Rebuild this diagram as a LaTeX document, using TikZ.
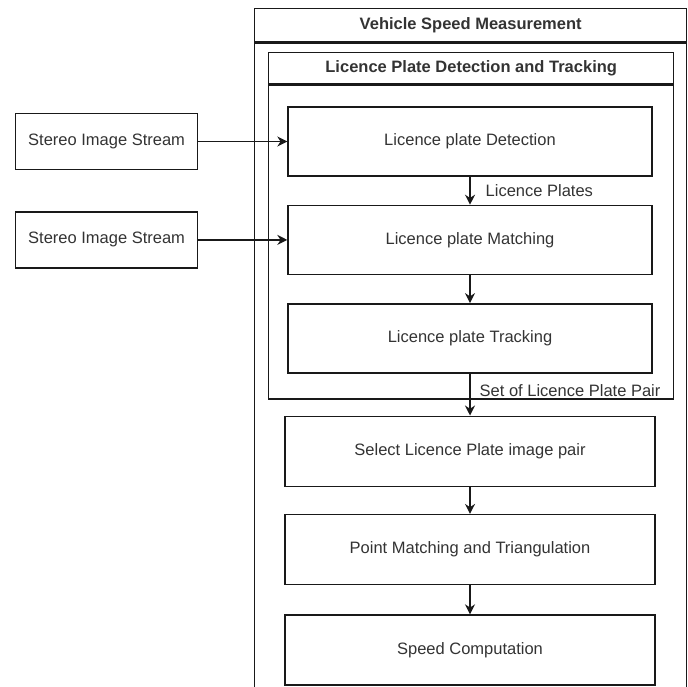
\documentclass[tikz,border=0pt]{standalone}
\usepackage{fontspec}
\setmainfont{Liberation Sans}
\usetikzlibrary{positioning,arrows.meta}

\tikzset{
  txt/.style={font=\fontsize{8.25}{10}\selectfont, text=black!80},
  block/.style={txt, draw=black!90, line width=0.7pt, minimum width=182pt, minimum height=34.5pt},
  wideblock/.style={block, minimum width=185pt, minimum height=35pt},
  source/.style={block, minimum width=91pt, minimum height=28pt},
  lanehead/.style={txt, font=\fontsize{8.25}{10}\selectfont\bfseries, draw=black!90, line width=0.7pt, anchor=north west},
  lanebody/.style={draw=black!90, line width=0.7pt, anchor=north},
  flow/.style={-{Stealth[length=5pt,width=5pt]}, line width=0.7pt, black!90},
  elabel/.style={txt, inner sep=0pt, anchor=west}
}

\begin{document}
\begin{tikzpicture}

  \useasboundingbox (0,0) rectangle (344pt,-343pt);
  \clip (0,0) rectangle (344pt,-343pt);

  \node[lanehead, minimum width=216pt, minimum height=16.5pt] (vsmhead) at (127pt,-4pt) {Vehicle Speed Measurement};
  \node[lanebody, minimum width=216pt, minimum height=330pt] (vsm) at (vsmhead.south) {};

  \node[lanehead, minimum width=202.5pt, minimum height=15.5pt] (lpdthead) at (134pt,-26pt) {Licence Plate Detection and Tracking};
  \node[lanebody, minimum width=202.5pt, minimum height=157pt] (lpdt) at (lpdthead.south) {};

  \node[block] (detect) at (235pt,-70.75pt) {Licence plate Detection};
  \node[block, below=14pt of detect] (match) {Licence plate Matching};
  \node[block, below=14pt of match] (track) {Licence plate Tracking};

  \node[wideblock, below=21pt of track] (select) {Select Licence Plate image pair};
  \node[wideblock, below=13.5pt of select] (triang) {Point Matching and Triangulation};
  \node[wideblock, below=14.5pt of triang] (speed) {Speed Computation};

  \node[source, left=44.5pt of detect] (stream1) {Stereo Image Stream};
  \node[source, left=44.5pt of match] (stream2) {Stereo Image Stream};

  \draw[flow] (stream1) -- (detect);
  \draw[flow] (stream2) -- (match);

  \draw[flow] (detect) -- node[elabel, xshift=7.5pt] {Licence Plates} (match);
  \draw[flow] (match) -- (track);
  \draw[flow] (track) -- node[elabel, pos=0.4, xshift=4.5pt] {Set of Licence Plate Pair} (select);
  \draw[flow] (select) -- (triang);
  \draw[flow] (triang) -- (speed);

\end{tikzpicture}
\end{document}
